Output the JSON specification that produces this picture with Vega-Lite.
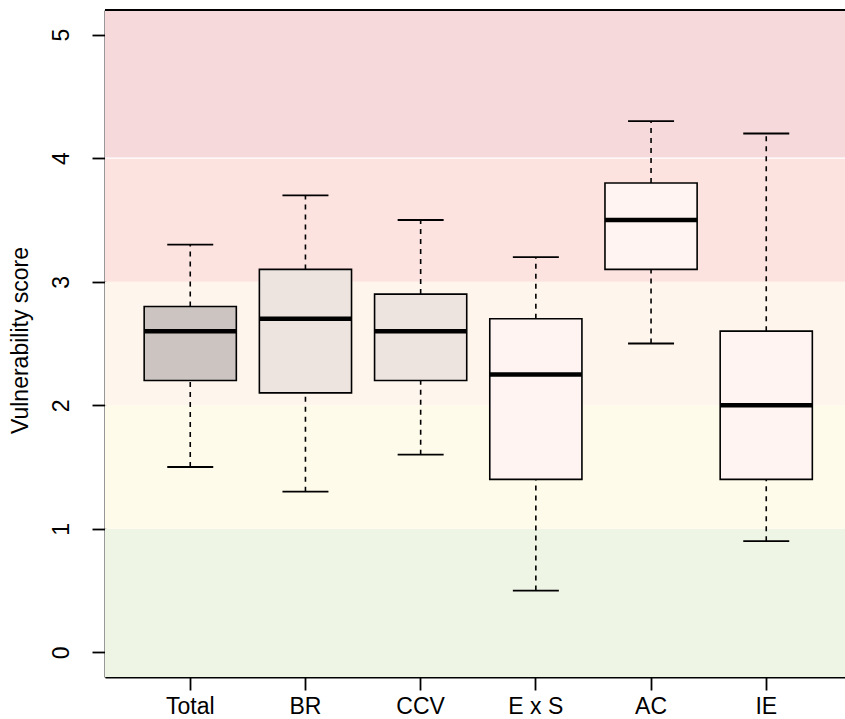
{
  "$schema": "https://vega.github.io/schema/vega-lite/v6.json",
  "width": 740,
  "height": 667,
  "autosize": {"type": "none"},
  "padding": {"left": 105, "top": 10, "right": 0, "bottom": 42},
  "background": "white",
  "config": {
    "view": {"stroke": null},
    "font": "Liberation Sans",
    "axis": {"labelFont": "Liberation Sans", "titleFont": "Liberation Sans", "labelColor": "black", "titleColor": "black", "domainColor": "black", "tickColor": "black", "grid": false}
  },
  "datasets": {
    "boxes": [
      {"group": "Total", "min": 1.5, "lower": 2.2, "median": 2.6, "upper": 2.8, "max": 3.3},
      {"group": "BR", "min": 1.3, "lower": 2.1, "median": 2.7, "upper": 3.1, "max": 3.7},
      {"group": "CCV", "min": 1.6, "lower": 2.2, "median": 2.6, "upper": 2.9, "max": 3.5},
      {"group": "E x S", "min": 0.5, "lower": 1.4, "median": 2.25, "upper": 2.7, "max": 3.2},
      {"group": "AC", "min": 2.5, "lower": 3.1, "median": 3.5, "upper": 3.8, "max": 4.3},
      {"group": "IE", "min": 0.9, "lower": 1.4, "median": 2.0, "upper": 2.6, "max": 4.2}
    ],
    "bands": [
      {"band": "low", "lo": -0.2, "hi": 1},
      {"band": "lowmid", "lo": 1, "hi": 2},
      {"band": "mid", "lo": 2, "hi": 3},
      {"band": "high", "lo": 3, "hi": 4},
      {"band": "veryhigh", "lo": 4, "hi": 5.2}
    ],
    "divider": [{"v": 4}],
    "frame": [{"v": 5.2}]
  },
  "resolve": {"scale": {"color": "independent", "fill": "independent"}},
  "layer": [
    {
      "data": {"name": "bands"},
      "mark": {"type": "rect"},
      "encoding": {
        "y": {
          "field": "lo", "type": "quantitative", "title": "Vulnerability score",
          "scale": {"domain": [-0.2, 5.2], "nice": false, "zero": false},
          "axis": {
            "values": [0, 1, 2, 3, 4, 5], "format": "d",
            "tickSize": 13, "tickWidth": 1.8, "domainWidth": 1.8,
            "labelAngle": 270, "labelAlign": "center", "labelBaseline": "alphabetic",
            "labelPadding": 24, "labelFontSize": 23,
            "titleFontSize": 23, "titleFontWeight": "normal", "titleAngle": 270,
            "titleBaseline": "alphabetic", "titleAlign": "center", "titleX": -78, "titleY": 330
          }
        },
        "y2": {"field": "hi"},
        "color": {
          "field": "band", "type": "nominal", "legend": null,
          "scale": {"domain": ["low", "lowmid", "mid", "high", "veryhigh"], "range": ["#EFF5E5", "#FEFBEA", "#FEF5EC", "#FCE3DF", "#F6D9DB"]}
        }
      }
    },
    {
      "data": {"name": "divider"},
      "mark": {"type": "rule", "color": "white", "strokeWidth": 1.3},
      "encoding": {"y": {"field": "v", "type": "quantitative", "title": "Vulnerability score"}}
    },
    {
      "data": {"name": "boxes"},
      "mark": {"type": "rule", "color": "black", "strokeWidth": 1.6, "strokeDash": [5, 5]},
      "encoding": {
        "x": {
          "field": "group", "type": "nominal", "sort": ["Total", "BR", "CCV", "E x S", "AC", "IE"],
          "scale": {"type": "band", "paddingInner": 0, "paddingOuter": 0.24, "range": [0, 746.5]},
          "axis": {"title": null, "labelAngle": 0, "tickSize": 13, "tickWidth": 1.8, "domainWidth": 1.8, "labelFontSize": 23, "labelBaseline": "alphabetic", "labelPadding": 23}
        },
        "y": {"field": "upper", "type": "quantitative", "title": "Vulnerability score"},
        "y2": {"field": "max"}
      }
    },
    {
      "data": {"name": "boxes"},
      "mark": {"type": "rule", "color": "black", "strokeWidth": 1.6, "strokeDash": [5, 5]},
      "encoding": {
        "x": {"field": "group", "type": "nominal", "sort": ["Total", "BR", "CCV", "E x S", "AC", "IE"]},
        "y": {"field": "min", "type": "quantitative", "title": "Vulnerability score"},
        "y2": {"field": "lower"}
      }
    },
    {
      "data": {"name": "boxes"},
      "mark": {"type": "tick", "color": "black", "size": 46, "thickness": 1.8, "opacity": 1},
      "encoding": {
        "x": {"field": "group", "type": "nominal", "sort": ["Total", "BR", "CCV", "E x S", "AC", "IE"]},
        "y": {"field": "max", "type": "quantitative", "title": "Vulnerability score"}
      }
    },
    {
      "data": {"name": "boxes"},
      "mark": {"type": "tick", "color": "black", "size": 46, "thickness": 1.8, "opacity": 1},
      "encoding": {
        "x": {"field": "group", "type": "nominal", "sort": ["Total", "BR", "CCV", "E x S", "AC", "IE"]},
        "y": {"field": "min", "type": "quantitative", "title": "Vulnerability score"}
      }
    },
    {
      "data": {"name": "boxes"},
      "mark": {"type": "bar", "width": {"band": 0.8}, "stroke": "black", "strokeWidth": 1.6, "opacity": 1},
      "encoding": {
        "x": {"field": "group", "type": "nominal", "sort": ["Total", "BR", "CCV", "E x S", "AC", "IE"]},
        "y": {"field": "lower", "type": "quantitative", "title": "Vulnerability score"},
        "y2": {"field": "upper"},
        "fill": {
          "field": "group", "type": "nominal", "legend": null,
          "scale": {"domain": ["Total", "BR", "CCV", "E x S", "AC", "IE"], "range": ["#CCC4C0", "#EDE4DF", "#EDE4DF", "#FFF4F1", "#FFF4F1", "#FFF4F1"]}
        }
      }
    },
    {
      "data": {"name": "boxes"},
      "mark": {"type": "tick", "color": "black", "size": 92, "thickness": 4.5, "opacity": 1},
      "encoding": {
        "x": {"field": "group", "type": "nominal", "sort": ["Total", "BR", "CCV", "E x S", "AC", "IE"]},
        "y": {"field": "median", "type": "quantitative", "title": "Vulnerability score"}
      }
    },
    {
      "data": {"name": "frame"},
      "mark": {"type": "rule", "color": "black", "strokeWidth": 1.8},
      "encoding": {"y": {"field": "v", "type": "quantitative", "title": "Vulnerability score"}}
    }
  ]
}
